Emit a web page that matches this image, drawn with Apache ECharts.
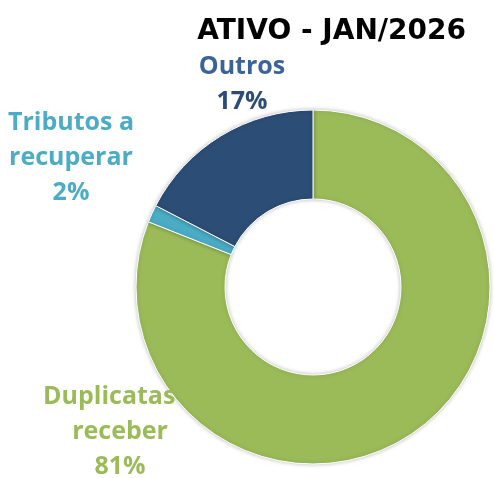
<!DOCTYPE html>
<html>
<head>
<meta charset="utf-8">
<script src="https://cdn.jsdelivr.net/npm/echarts@6/dist/echarts.min.js"></script>
<style>
html,body{margin:0;padding:0;background:#fff;}
#chart{width:494px;height:478px;}
</style>
</head>
<body>
<div id="chart"></div>
<script>
const titleText = 'ATIVO - JAN/2026';
const categories = ['Duplicatas a receber', 'Tributos a recuperar', 'Outros'];
const labelNames = ['Duplicatas a\nreceber', 'Tributos a\nrecuperar', 'Outros'];
const values = [81.0, 1.6, 17.4];
const colors = ['#9BBB59', '#4BACC6', '#2C4D75'];
const labelColors = ['#9BBB59', '#4BACC6', '#3A6399'];
const labelPos = [[120, 432], [71, 158], [242, 84]];

const chart = echarts.init(document.getElementById('chart'));
const FONT = 'Open Sans';
chart.setOption({
  animation: false,
  title: {
    text: titleText,
    right: 23,
    top: 13,
    textStyle: {fontFamily: 'DejaVu Sans', fontWeight: 'bold', fontSize: 28, color: '#000'}
  },
  series: [{
    type: 'pie',
    center: [313, 287],
    radius: [88, 177],
    startAngle: 90,
    clockwise: true,
    percentPrecision: 0,
    itemStyle: {borderColor: '#fff', borderWidth: 1, shadowColor: 'rgba(0,0,0,0.25)', shadowBlur: 4},
    labelLine: {show: false},
    data: categories.map((c, i) => ({
      name: c,
      value: values[i],
      itemStyle: {color: colors[i]},
      label: {
        show: true,
        position: 'inside',
        overflow: 'none',
        formatter: i === 2 ? '{a|' + labelNames[i] + '}\n{b|{d}%}' : labelNames[i] + '\n{d}%',
        color: labelColors[i],
        fontFamily: FONT,
        fontWeight: 'bold',
        fontSize: 25,
        lineHeight: 35,
        align: 'center',
        rich: i === 2 ? {
          a: {color: '#3A6399', fontFamily: FONT, fontWeight: 'bold', fontSize: 25, lineHeight: 35},
          b: {color: '#2B4C79', fontFamily: FONT, fontWeight: 'bold', fontSize: 25, lineHeight: 35}
        } : undefined
      }
    })),
    labelLayout: function (p) {
      const pos = labelPos[p.dataIndex];
      return {x: pos[0], y: pos[1], align: 'center', verticalAlign: 'middle', moveOverlap: false, hideOverlap: false};
    }
  }]
});
</script>
</body>
</html>
